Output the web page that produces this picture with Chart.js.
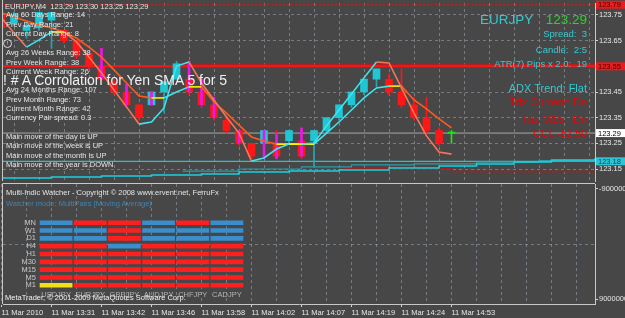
<!DOCTYPE html>
<html>
<head>
<meta charset="utf-8">
<title>EURJPY,M4</title>
<script src="https://cdn.jsdelivr.net/npm/chart.js@4.4.1/dist/chart.umd.min.js"></script>
<style>
  html, body { margin: 0; padding: 0; background: #474747; overflow: hidden; }
  #wrap { position: relative; width: 625px; height: 318px; font-family: "Liberation Sans", Arial, sans-serif; }
  #wrap canvas { position: absolute; left: 0; }
  .t { position: absolute; white-space: nowrap; font-size: 7.5px; line-height: 10px; color: #e4e4e4; }
  .l { left: 6px; }
  .r { right: 38px; text-align: right; }
  .cy { color: #36c9d2; }
  .rd { color: #d80c0c; }
  .icon { position: absolute; left: 3px; top: 39px; width: 7px; height: 7px; border: 1px solid #dcdcdc;
          border-radius: 50%; font-size: 6px; line-height: 7px; text-align: center; color: #dcdcdc; }
</style>
</head>
<body>
<div id="wrap">
  <canvas id="priceChart" width="625" height="184" style="top:0"></canvas>
  <canvas id="lowerChart" width="625" height="136" style="top:182px"></canvas>
  <canvas id="watchChart" width="244" height="95" style="top:210px"></canvas>

  <!-- left info block -->
  <div class="t" style="left:5px;top:2px">EURJPY,M4&nbsp; 123.29 123.30 123.25 123.29</div>
  <div class="t l" style="top:10px">Avg 60 Days Range: 14</div>
  <div class="t l" style="top:20px">Prev Day Range: 21</div>
  <div class="t l" style="top:29px">Current Day Range: 8</div>
  <div class="icon">!</div>
  <div class="t l" style="top:48px">Avg 26 Weeks Range: 38</div>
  <div class="t l" style="top:57.5px">Prev Week Range: 38</div>
  <div class="t l" style="top:67px">Current Week Range: 26</div>
  <div class="t" style="left:3px;top:72px;font-size:14px;line-height:16px;color:#efefef">! # A Corrolation for Yen SMA 5 for 5</div>
  <div class="t l" style="top:85px">Avg 24 Months Range: 107</div>
  <div class="t l" style="top:94.5px">Prev Month Range: 73</div>
  <div class="t l" style="top:104px">Current Month Range: 42</div>
  <div class="t l" style="top:113px">Currency Pair spread: 0.3</div>
  <div class="t l" style="top:132px">Main move of the day is UP</div>
  <div class="t l" style="top:141px">Main move of the week is UP</div>
  <div class="t l" style="top:150.5px">Main move of the month is UP</div>
  <div class="t l" style="top:159.5px">Main move of the year is DOWN</div>

  <!-- right info block -->
  <div class="t cy" style="left:480px;top:12px;font-size:13.5px;line-height:16px">EURJPY</div>
  <div class="t r" style="top:12px;font-size:13.5px;line-height:16px;color:#2fcf2f">123.29</div>
  <div class="t r cy" style="top:28px;font-size:9.5px;line-height:12px">Spread:&nbsp; 3</div>
  <div class="t r cy" style="top:44px;font-size:9.5px;line-height:12px">Candle:&nbsp; 2:5</div>
  <div class="t r cy" style="top:58px;font-size:9.5px;line-height:12px">ATR(7) Pips x 2.0:&nbsp; 19</div>
  <div class="t r cy" style="top:81px;font-size:11px;line-height:14px">ADX Trend: Flat</div>
  <div class="t r rd" style="top:95px;font-size:11px;line-height:14px">Trix Current: Dn</div>
  <div class="t r rd" style="top:112px;font-size:11px;line-height:14px">Trix M15:&nbsp; Dn</div>
  <div class="t r rd" style="top:126px;font-size:10.5px;line-height:14px">CCI: -82.50</div>

  <!-- indicator window -->
  <div class="t l" style="top:188px">Multi-Indic Watcher - Copyright © 2008 www.ervent.net, FerruFx</div>
  <div class="t l" style="top:199px;color:#3d85b5">Watcher mode: MultiPairs [Moving Average]</div>
  <div class="t" style="left:5px;top:293px;color:#f0f0f0">MetaTrader, © 2001-2009 MetaQuotes Software Corp.</div>
</div>

<script>
// EURJPY M4 bars, oldest first
const barOpen  = [123.75, 123.72, 123.69, 123.70, 123.73, 123.69, 123.65, 123.60, 123.55, 123.49,
                  123.45, 123.40, 123.40, 123.45, 123.50, 123.50, 123.45, 123.40, 123.34, 123.30,
                  123.25, 123.25, 123.25, 123.26, 123.26, 123.26, 123.30, 123.35, 123.40, 123.45,
                  123.50, 123.50, 123.45, 123.40, 123.35, 123.30, 123.29];
const barHigh  = [123.76, 123.76, 123.72, 123.76, 123.76, 123.69, 123.65, 123.60, 123.62, 123.50,
                  123.48, 123.40, 123.45, 123.49, 123.57, 123.57, 123.50, 123.43, 123.35, 123.30,
                  123.25, 123.30, 123.30, 123.30, 123.31, 123.30, 123.35, 123.40, 123.45, 123.50,
                  123.54, 123.52, 123.54, 123.43, 123.43, 123.31, 123.30];
const barLow   = [123.69, 123.71, 123.66, 123.69, 123.62, 123.64, 123.58, 123.54, 123.49, 123.44,
                  123.39, 123.34, 123.40, 123.37, 123.50, 123.44, 123.39, 123.34, 123.29, 123.24,
                  123.19, 123.19, 123.19, 123.25, 123.19, 123.16, 123.29, 123.34, 123.39, 123.44,
                  123.47, 123.44, 123.39, 123.34, 123.29, 123.24, 123.25];
const barClose = [123.70, 123.75, 123.71, 123.76, 123.76, 123.65, 123.59, 123.55, 123.50, 123.45,
                  123.40, 123.35, 123.45, 123.49, 123.56, 123.45, 123.40, 123.35, 123.30, 123.25,
                  123.20, 123.30, 123.20, 123.30, 123.20, 123.30, 123.35, 123.40, 123.45, 123.50,
                  123.54, 123.45, 123.40, 123.35, 123.30, 123.25, 123.29];

// magenta overlay bars
const markBars = [8, 10, 12, 15, 16, 17, 19, 21, 22, 24];
const markLow  = [123.50, 123.40, 123.40, 123.45, 123.40, 123.35, 123.25, 123.19, 123.19, 123.20];
const markHigh = [123.62, 123.48, 123.45, 123.57, 123.50, 123.43, 123.30, 123.30, 123.29, 123.31];

// SMA 5 (fast) and slow MA
const fastMA = [123.738, 123.680, 123.625, 123.653, 123.684, 123.684, 123.645, 123.586, 123.524, 123.458,
                123.392, 123.325, 123.333, 123.388, 123.551, 123.567, 123.485, 123.419, 123.353, 123.290,
                123.181, 123.193, 123.228, 123.247, 123.247, 123.251, 123.318, 123.380, 123.442, 123.505,
                123.567, 123.563, 123.466, 123.368, 123.279, 123.216, 123.208];
const slowMA = [123.758, 123.742, 123.727, 123.711, 123.699, 123.684, 123.660, 123.625, 123.586, 123.536,
                123.485, 123.434, 123.427, 123.427, 123.450, 123.470, 123.470, 123.411, 123.368, 123.321,
                123.275, 123.259, 123.247, 123.247, 123.247, 123.247, 123.290, 123.333, 123.380, 123.427,
                123.466, 123.473, 123.473, 123.419, 123.384, 123.345, 123.310];

// stepped trend lines near the bottom of the price window
const trendBars   = [0, 4, 8, 12, 16, 19, 23, 27, 31, 35, 38, 41, 44, 47.48];
const trendLevels = [123.115, 123.119, 123.123, 123.127, 123.131, 123.138, 123.142, 123.146, 123.154,
                     123.162, 123.170, 123.177, 123.185, 123.193];
const tealBars    = [14.5, 19, 24, 28, 33, 38, 43, 47.48];
const tealLevels  = [123.142, 123.150, 123.158, 123.166, 123.170, 123.177, 123.183, 123.189];
const redLowBars   = [27.4, 36, 47.48];
const redLowLevels = [123.150, 123.140, 123.140];

// horizontal levels
const askLevel     = 123.79;
const resistLevel  = 123.55;
const resistLevel2 = 123.558;
const bidLevel     = 123.29;
const supportLevel = 123.18;

// axes
const barMin = 0.12, barMax = 47.48;
const priceMin = 123.1033, priceMax = 123.7967;
const priceTicks = [123.15, 123.25, 123.35, 123.45, 123.55, 123.65, 123.75];
const gridBars = [0, 2, 4, 6, 8, 10, 12, 14, 16, 18, 20, 22, 24, 26, 28, 30, 32, 34, 36, 38, 40, 42, 44, 46];
const timeTickBars = [0, 4, 8, 12, 16, 20, 24, 28, 32, 36];
const timeLabels = ['11 Mar 2010', '11 Mar 13:31', '11 Mar 13:42', '11 Mar 13:46', '11 Mar 13:58',
                    '11 Mar 14:02', '11 Mar 14:07', '11 Mar 14:19', '11 Mar 14:24', '11 Mar 14:53'];
const indicatorTicks = [-9000000, 0, 9000000];

// Multi-Indic Watcher: 1 = up, -1 = down, 0 = flat (MN..M1)
const pairs = ['USDJPY', 'EURJPY', 'GBPJPY', 'AUDJPY', 'CHFJPY', 'CADJPY'];
const timeframes = ['MN', 'W1', 'D1', 'H4', 'H1', 'M30', 'M15', 'M5', 'M1'];
const usdjpySig = [1, 1, 1, -1, -1, -1, -1, -1, 0];
const eurjpySig = [-1, 1, 1, -1, -1, -1, -1, -1, -1];
const gbpjpySig = [-1, -1, -1, 1, -1, -1, -1, -1, -1];
const audjpySig = [1, 1, 1, -1, -1, -1, -1, -1, -1];
const chfjpySig = [-1, 1, 1, -1, -1, -1, -1, -1, -1];
const cadjpySig = [1, 1, 1, -1, -1, -1, -1, -1, -1];

Chart.defaults.font.family = '"Liberation Sans", Arial, sans-serif';
Chart.defaults.font.size = 7.5;
Chart.defaults.color = '#e6e6e6';

const gridColor = 'rgba(150,160,172,0.6)';
const frameColor = '#c8c8c8';
const upColor = '#1fc6d4', downColor = '#ff1717', dojiColor = '#19e619';

const bars = barOpen.map((_, i) => i);
const bodyColors = bars.map(i => barClose[i] > barOpen[i] ? upColor : barClose[i] < barOpen[i] ? downColor : dojiColor);
const wickColors = bars.map(i => barClose[i] > barOpen[i] ? '#2aa3ad' : barClose[i] < barOpen[i] ? downColor : dojiColor);

function hline(level, from, to) {
    return [{ x: from, y: level }, { x: to, y: level }];
}
function pointsOf(xs, ys) {
    return xs.map((x, i) => ({ x: x, y: ys[i] }));
}
function maSegment(fall) {
    return {
        borderColor: ctx => ctx.p1.parsed.y > ctx.p0.parsed.y ? '#3fe4ee'
            : ctx.p1.parsed.y < ctx.p0.parsed.y ? fall : '#ffef00'
    };
}

// left edge of each window + price tags on the right axis
const leftFrame = {
    id: 'leftFrame',
    afterDraw(chart, args, opts) {
        const { ctx, chartArea: a } = chart;
        ctx.save();
        ctx.strokeStyle = frameColor;
        ctx.lineWidth = 1;
        ctx.beginPath();
        ctx.moveTo(a.left - 0.5, opts.top ? a.top - 0.5 : 0);
        ctx.lineTo(a.left - 0.5, a.bottom);
        if (opts.top) {
            ctx.moveTo(a.left - 0.5, a.top - 0.5);
            ctx.lineTo(a.right, a.top - 0.5);
        }
        ctx.stroke();
        ctx.restore();
    }
};

const priceTags = {
    id: 'priceTags',
    afterDraw(chart) {
        const { ctx } = chart;
        const y = chart.scales.y;
        const tags = [
            { v: askLevel, bg: '#e81c1c', fg: '#4a0000' },
            { v: resistLevel, bg: '#e81c1c', fg: '#4a0000' },
            { v: bidLevel, bg: '#ffffff', fg: '#000000' },
            { v: supportLevel, bg: '#2ec4d4', fg: '#0b4a55' }
        ];
        ctx.save();
        ctx.font = '7.5px "Liberation Sans", Arial, sans-serif';
        ctx.textBaseline = 'middle';
        tags.forEach(t => {
            const py = y.getPixelForValue(t.v);
            ctx.fillStyle = t.bg;
            ctx.fillRect(y.left + 1, py - 4, 29, 8);
            ctx.fillStyle = t.fg;
            ctx.fillText(t.v.toFixed(2), y.left + 3, py + 0.5);
        });
        ctx.restore();
    }
};

new Chart(document.getElementById('priceChart'), {
    type: 'line',
    data: {
        datasets: [
            { data: hline(askLevel, barMin, barMax), borderColor: '#e01818', borderWidth: 1, borderDash: [2, 2], order: 20 },
            { data: hline(resistLevel, barMin, barMax), borderColor: '#f01a1a', borderWidth: 2, order: 19 },
            { data: hline(resistLevel2, 14.5, barMax), borderColor: '#d01515', borderWidth: 1, order: 19 },
            { data: hline(bidLevel, barMin, barMax), borderColor: '#a9a9a9', borderWidth: 1, order: 18 },
            { data: hline(supportLevel, barMin, barMax), borderColor: '#29c3d0', borderWidth: 1.2, order: 18 },
            { data: pointsOf(trendBars, trendLevels), borderColor: '#1ed0e0', borderWidth: 1.5, stepped: true, order: 17 },
            { data: pointsOf(tealBars, tealLevels), borderColor: '#2a9ea6', borderWidth: 1.2, stepped: true, order: 17 },
            { data: pointsOf(redLowBars, redLowLevels), borderColor: '#b21a1a', borderWidth: 1.5, stepped: true, order: 17 },
            {
                type: 'bar', grouped: false, barThickness: 1, order: 8,
                data: bars.map(i => ({ x: i, y: [barLow[i], barHigh[i]] })),
                backgroundColor: wickColors
            },
            {
                type: 'bar', grouped: false, barThickness: 7, minBarLength: 1, order: 7,
                data: bars.map(i => ({ x: i, y: [barOpen[i], barClose[i]] })),
                backgroundColor: bodyColors
            },
            {
                type: 'bar', grouped: false, barThickness: 2, order: 6,
                data: markBars.map((b, j) => ({ x: b, y: [markLow[j], markHigh[j]] })),
                backgroundColor: '#e619e6'
            },
            { data: pointsOf(bars, slowMA), borderWidth: 1.6, segment: maSegment('#ff5a1e'), order: 2 },
            { data: pointsOf(bars, fastMA), borderWidth: 1.6, segment: maSegment('#f4765c'), order: 1 }
        ]
    },
    options: {
        responsive: false,
        animation: false,
        events: [],
        elements: { point: { radius: 0 }, line: { tension: 0 } },
        layout: { padding: { left: 3, top: 3, bottom: 3, right: 0 } },
        plugins: { legend: { display: false }, tooltip: { enabled: false }, leftFrame: { top: false } },
        scales: {
            x: {
                type: 'linear', min: barMin, max: barMax, offset: false,
                afterBuildTicks: s => { s.ticks = gridBars.map(v => ({ value: v })); },
                afterFit: s => { s.height = 0; s.paddingLeft = 0; s.paddingRight = 0; },
                ticks: { display: false },
                grid: { color: gridColor, drawTicks: false },
                border: { display: false, dash: [3, 3] }
            },
            y: {
                type: 'linear', position: 'right', min: priceMin, max: priceMax,
                afterBuildTicks: s => { s.ticks = priceTicks.map(v => ({ value: v })); },
                afterFit: s => { s.width = 30; s.paddingTop = 0; s.paddingBottom = 0; },
                ticks: { color: '#e8e8e8', padding: 1, callback: v => v.toFixed(2) },
                grid: { color: gridColor, tickLength: 3, tickColor: '#cfcfcf', tickBorderDash: [] },
                border: { display: true, color: frameColor, dash: [3, 3] }
            }
        }
    },
    plugins: [leftFrame, priceTags]
});

new Chart(document.getElementById('lowerChart'), {
    type: 'line',
    data: { datasets: [] },
    options: {
        responsive: false,
        animation: false,
        events: [],
        layout: { padding: { left: 3, top: 2, bottom: 0, right: 0 } },
        plugins: { legend: { display: false }, tooltip: { enabled: false }, leftFrame: { top: true } },
        scales: {
            x: {
                type: 'linear', min: barMin, max: barMax, offset: false,
                afterBuildTicks: s => { s.ticks = gridBars.map(v => ({ value: v })); },
                afterFit: s => { s.height = 14; s.paddingLeft = 0; s.paddingRight = 0; },
                ticks: {
                    color: '#e6e6e6', padding: 1, autoSkip: false, maxRotation: 0, align: 'start',
                    callback: v => { const i = timeTickBars.indexOf(v); return i >= 0 ? timeLabels[i] : ''; }
                },
                grid: {
                    color: gridColor, tickLength: 3, tickBorderDash: [],
                    tickColor: c => c.tick && timeTickBars.includes(c.tick.value) ? '#d0d0d0' : 'rgba(0,0,0,0)'
                },
                border: { display: true, color: frameColor, dash: [3, 3] }
            },
            y: {
                type: 'linear', position: 'right', reverse: true, min: -9800000, max: 9800000,
                afterBuildTicks: s => { s.ticks = indicatorTicks.map(v => ({ value: v })); },
                afterFit: s => { s.width = 30; s.paddingTop = 0; s.paddingBottom = 0; },
                ticks: { color: '#e6e6e6', padding: 1, callback: v => v === 0 ? '' : String(v) },
                grid: {
                    tickLength: 3, tickBorderDash: [],
                    color: c => c.tick && c.tick.value === 0 ? gridColor : 'rgba(0,0,0,0)',
                    tickColor: c => c.tick && c.tick.value !== 0 ? '#d0d0d0' : 'rgba(0,0,0,0)'
                },
                border: { display: true, color: frameColor, dash: [3, 3] }
            }
        }
    },
    plugins: [leftFrame]
});

const pairSignals = [usdjpySig, eurjpySig, gbpjpySig, audjpySig, chfjpySig, cadjpySig];
const sigColor = s => s > 0 ? '#3a8ecb' : s < 0 ? '#ff1f1f' : '#f2df16';

new Chart(document.getElementById('watchChart'), {
    type: 'bar',
    data: {
        labels: timeframes,
        datasets: pairs.map((p, c) => ({
            label: p,
            data: pairSignals[c].map(() => [c - 0.47, c + 0.47]),
            backgroundColor: pairSignals[c].map(sigColor),
            barThickness: 4,
            grouped: false
        }))
    },
    options: {
        indexAxis: 'y',
        responsive: false,
        animation: false,
        events: [],
        layout: { padding: { top: 8.8, left: 0, right: 0, bottom: 0 } },
        plugins: { legend: { display: false }, tooltip: { enabled: false } },
        scales: {
            x: {
                type: 'linear', min: -0.5, max: 5.5,
                afterBuildTicks: s => { s.ticks = pairs.map((_, c) => ({ value: c })); },
                afterFit: s => { s.height = 15.8; s.paddingLeft = 0; s.paddingRight = 0; },
                ticks: { color: '#b4b4b4', padding: 1, autoSkip: false, maxRotation: 0, callback: v => pairs[v] },
                grid: { display: false, drawTicks: false },
                border: { display: false }
            },
            y: {
                afterFit: s => { s.width = 39; s.paddingTop = 0; s.paddingBottom = 0; },
                ticks: { color: '#c8c8c8', padding: 3, autoSkip: false },
                grid: { display: false, drawTicks: false },
                border: { display: false }
            }
        }
    }
});
</script>
</body>
</html>
